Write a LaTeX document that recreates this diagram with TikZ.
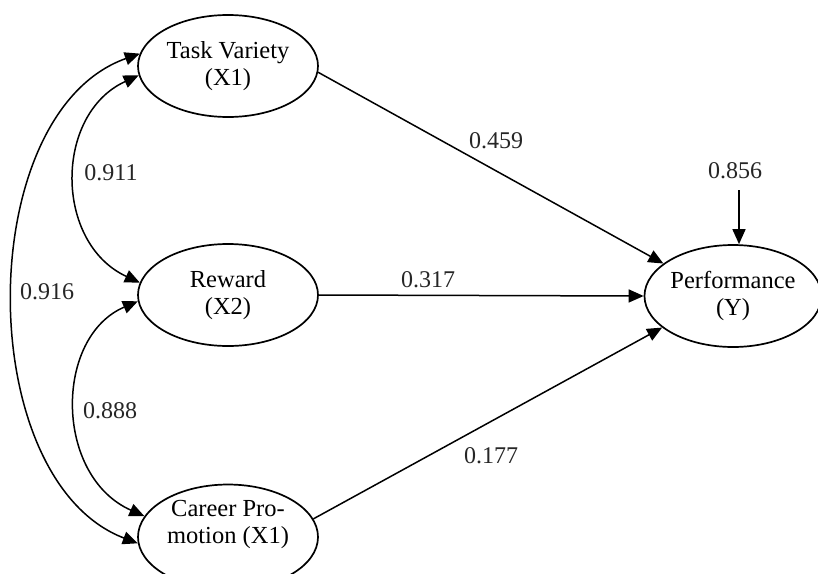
\documentclass[tikz,border=0pt]{standalone}
\usepackage{fontspec}
\setmainfont{Liberation Serif}
\usetikzlibrary{shapes.geometric,arrows.meta}
\begin{document}
\begin{tikzpicture}[x=1pt,y=-1pt,
  lat/.style={ellipse, draw, line width=1.7pt, minimum width=180pt, minimum height=102pt, inner sep=0pt, align=center, font=\fontsize{24.5}{27}\selectfont},
  pth/.style={line width=1.5pt, -{Triangle[length=15pt,width=13pt]}},
  cov/.style={line width=1.5pt, {Triangle[length=15pt,width=13pt]}-{Triangle[length=15pt,width=13pt]}},
  lbl/.style={font=\fontsize{24}{26}\selectfont, text=black!85, inner sep=0pt}]
\useasboundingbox (0,0) rectangle (818,573);
\node[lat] (tv) at (228,66) {Task Variety\\(X1)};
\node[lat] (rw) at (228,295) {Reward\\(X2)};
\node[lat, minimum height=100pt] (cp) at (228,537) {Career Pro-\\motion (X1)\\[4pt]};
\node[lat, minimum width=170pt] (pf) at (733,296) {Performance\\(Y)};
\coordinate (e) at (739,190);
\draw[pth] (tv.-4) -- (pf.155);
\draw[pth] (rw.east) -- (pf.west);
\draw[pth] (cp.12) -- (pf.204);
\draw[pth] (e) -- (e |- pf.north);
\draw[cov] (tv.172) .. controls (-28,113) and (-28,480) .. (cp.184);
\draw[cov] (tv.186) .. controls (54,114) and (54,243) .. (rw.172);
\draw[cov] (rw.184) .. controls (54,337) and (54,476) .. (cp.166);
\node[lbl] (l459) at (496,141) {0.459};
\node[lbl] (l317) at (428,280) {0.317};
\node[lbl] (l177) at (491,456) {0.177};
\node[lbl] (l856) at (735,171) {0.856};
\node[lbl] (l911) at (111,173) {0.911};
\node[lbl] (l888) at (110,411) {0.888};
\node[lbl] (l916) at (47,292) {0.916};
\end{tikzpicture}
\end{document}
